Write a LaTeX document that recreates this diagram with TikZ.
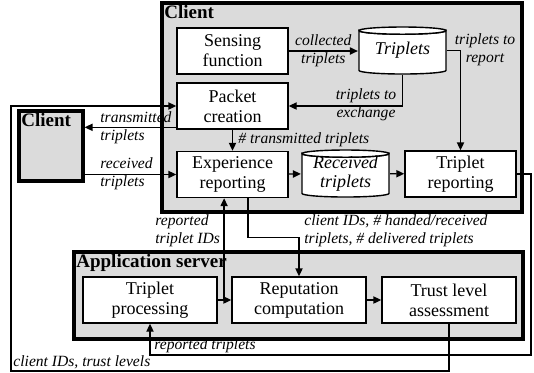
\documentclass[tikz,border=0pt]{standalone}
\usepackage{fontspec}
\setmainfont{Liberation Serif}
\usetikzlibrary{arrows.meta,positioning,calc}

\begin{document}
\begin{tikzpicture}[x=0.5pt, y=-0.5pt,
  group/.style={draw, line width=1.6pt, fill=black!14},
  grouptitle/.style={font=\fontsize{9.5}{11}\selectfont\bfseries, inner sep=1pt, anchor=north west},
  block/.style={draw, fill=white, line width=0.7pt, minimum width=55.5pt, minimum height=23pt, align=center, font=\fontsize{9}{10}\selectfont, inner sep=1pt},
  wblock/.style={block, minimum width=67pt},
  store/.style={rectangle, minimum width=44.2pt, minimum height=24.2pt, align=center, font=\fontsize{9}{9.6}\selectfont\itshape, inner sep=0pt,
    path picture={
      \draw[line width=0.7pt, fill=white]
        ([xshift=0.35pt, yshift=-2.15pt]path picture bounding box.north west)
        arc[start angle=180, end angle=360, x radius=21.75pt, y radius=1.8pt]
        -- ([xshift=-0.35pt, yshift=2.15pt]path picture bounding box.south east)
        arc[start angle=0, end angle=-180, x radius=21.75pt, y radius=1.8pt]
        -- cycle;
      \draw[line width=0.7pt, fill=white]
        ([yshift=-2.15pt]path picture bounding box.north)
        ellipse[x radius=21.75pt, y radius=1.8pt];
    }},
  arr/.style={-{Triangle[length=4pt, width=3.6pt]}, line width=0.7pt},
  lbl/.style={font=\fontsize{7.8}{9}\selectfont\itshape, inner sep=1pt},
]
\useasboundingbox (0,0) rectangle (534,372);

% Groups
\node[group, minimum width=180pt, minimum height=104.5pt] (client) at (342,107.5) {};
\node[grouptitle] at ([shift={(0.8pt,-0.6pt)}]client.north west) {Client};
\node[group, minimum width=32pt, minimum height=35pt] (peer) at (51,146) {};
\node[grouptitle] at ([shift={(0.8pt,-0.6pt)}]peer.north west) {Client};
\node[group, minimum width=224.5pt, minimum height=43.5pt] (appsrv) at (298.5,295.5) {};
\node[grouptitle] at ([shift={(0.8pt,-0.6pt)}]appsrv.north west) {Application server};

% Client blocks
\node[block] (sensing) at (232.5,51) {Sensing\\function};
\node[block] (packet) at (232.5,106) {Packet\\creation};
\node[block] (experience) at (232.5,174.5) {Experience\\reporting};
\node[store] (triplets) at (402.5,50.5) {\raisebox{-1pt}{Triplets}};
\node[store] (received) at (345.5,173.5) {Received\\triplets};
\node[block] (treport) at (460.5,174) {Triplet\\reporting};

% Server blocks
\node[wblock] (tproc) at (150,300) {Triplet\\processing};
\node[wblock] (repcomp) at (299,300) {Reputation\\computation};
\node[wblock] (trust) at (449,300) {Trust level\\assessment};

% Inside the client
\draw[arr] (sensing.east) -- (sensing.east -| triplets.west)
  node[midway, lbl, align=center] {collected\\triplets};
\draw[arr] (triplets.east) -| (treport.north);
\node[lbl, align=center] at (485,50) {triplets to\\report};
\draw[arr] (triplets.south) |- (packet.east);
\node[lbl, align=center] at (366,105) {triplets to\\exchange};
\draw[arr] (packet) -- (experience);
\node[lbl, anchor=west] at (236,140) {\# transmitted triplets};
\draw[arr] (experience) -- (received);
\draw[arr] (received) -- (treport);

% Exchange with the other client
\draw[arr] ([yshift=1.2pt]packet.south west) -- ([yshift=1.2pt]packet.south west -| peer.east);
\node[lbl, anchor=west, align=left] at (98,128) {transmitted\\triplets};
\draw[arr] (experience.west -| peer.east) -- (experience.west);
\node[lbl, anchor=west, align=left] at (98,174) {received\\triplets};

% Client to server
\coordinate (rr) at (531,355);
\draw[arr] (treport.east) -| (rr) -| (tproc.south);
\node[lbl, anchor=south west] at (152,355) {reported triplets};
\draw[arr] ([xshift=7.75pt]experience.south) -- ++(0,39) -| (repcomp.north);
\node[lbl, anchor=west, align=left] at (302,231) {client IDs, \# handed/received\\triplets, \# delivered triplets};

% Inside the server
\path (tproc.east) -- (repcomp.west) coordinate[pos=0.47] (split);
\draw[arr] (tproc.east) -- (repcomp.west);
\draw[arr] (split) -- (split |- experience.south);
\node[lbl, anchor=west, align=left] at (153,231) {reported\\triplet IDs};
\draw[arr] (repcomp) -- (trust);

% Server back to client
\coordinate (lb) at (11,371);
\draw[arr] (trust.south) |- (lb) |- (packet.west);
\node[lbl, anchor=south west] at (11,371) {client IDs, trust levels};

\end{tikzpicture}
\end{document}
